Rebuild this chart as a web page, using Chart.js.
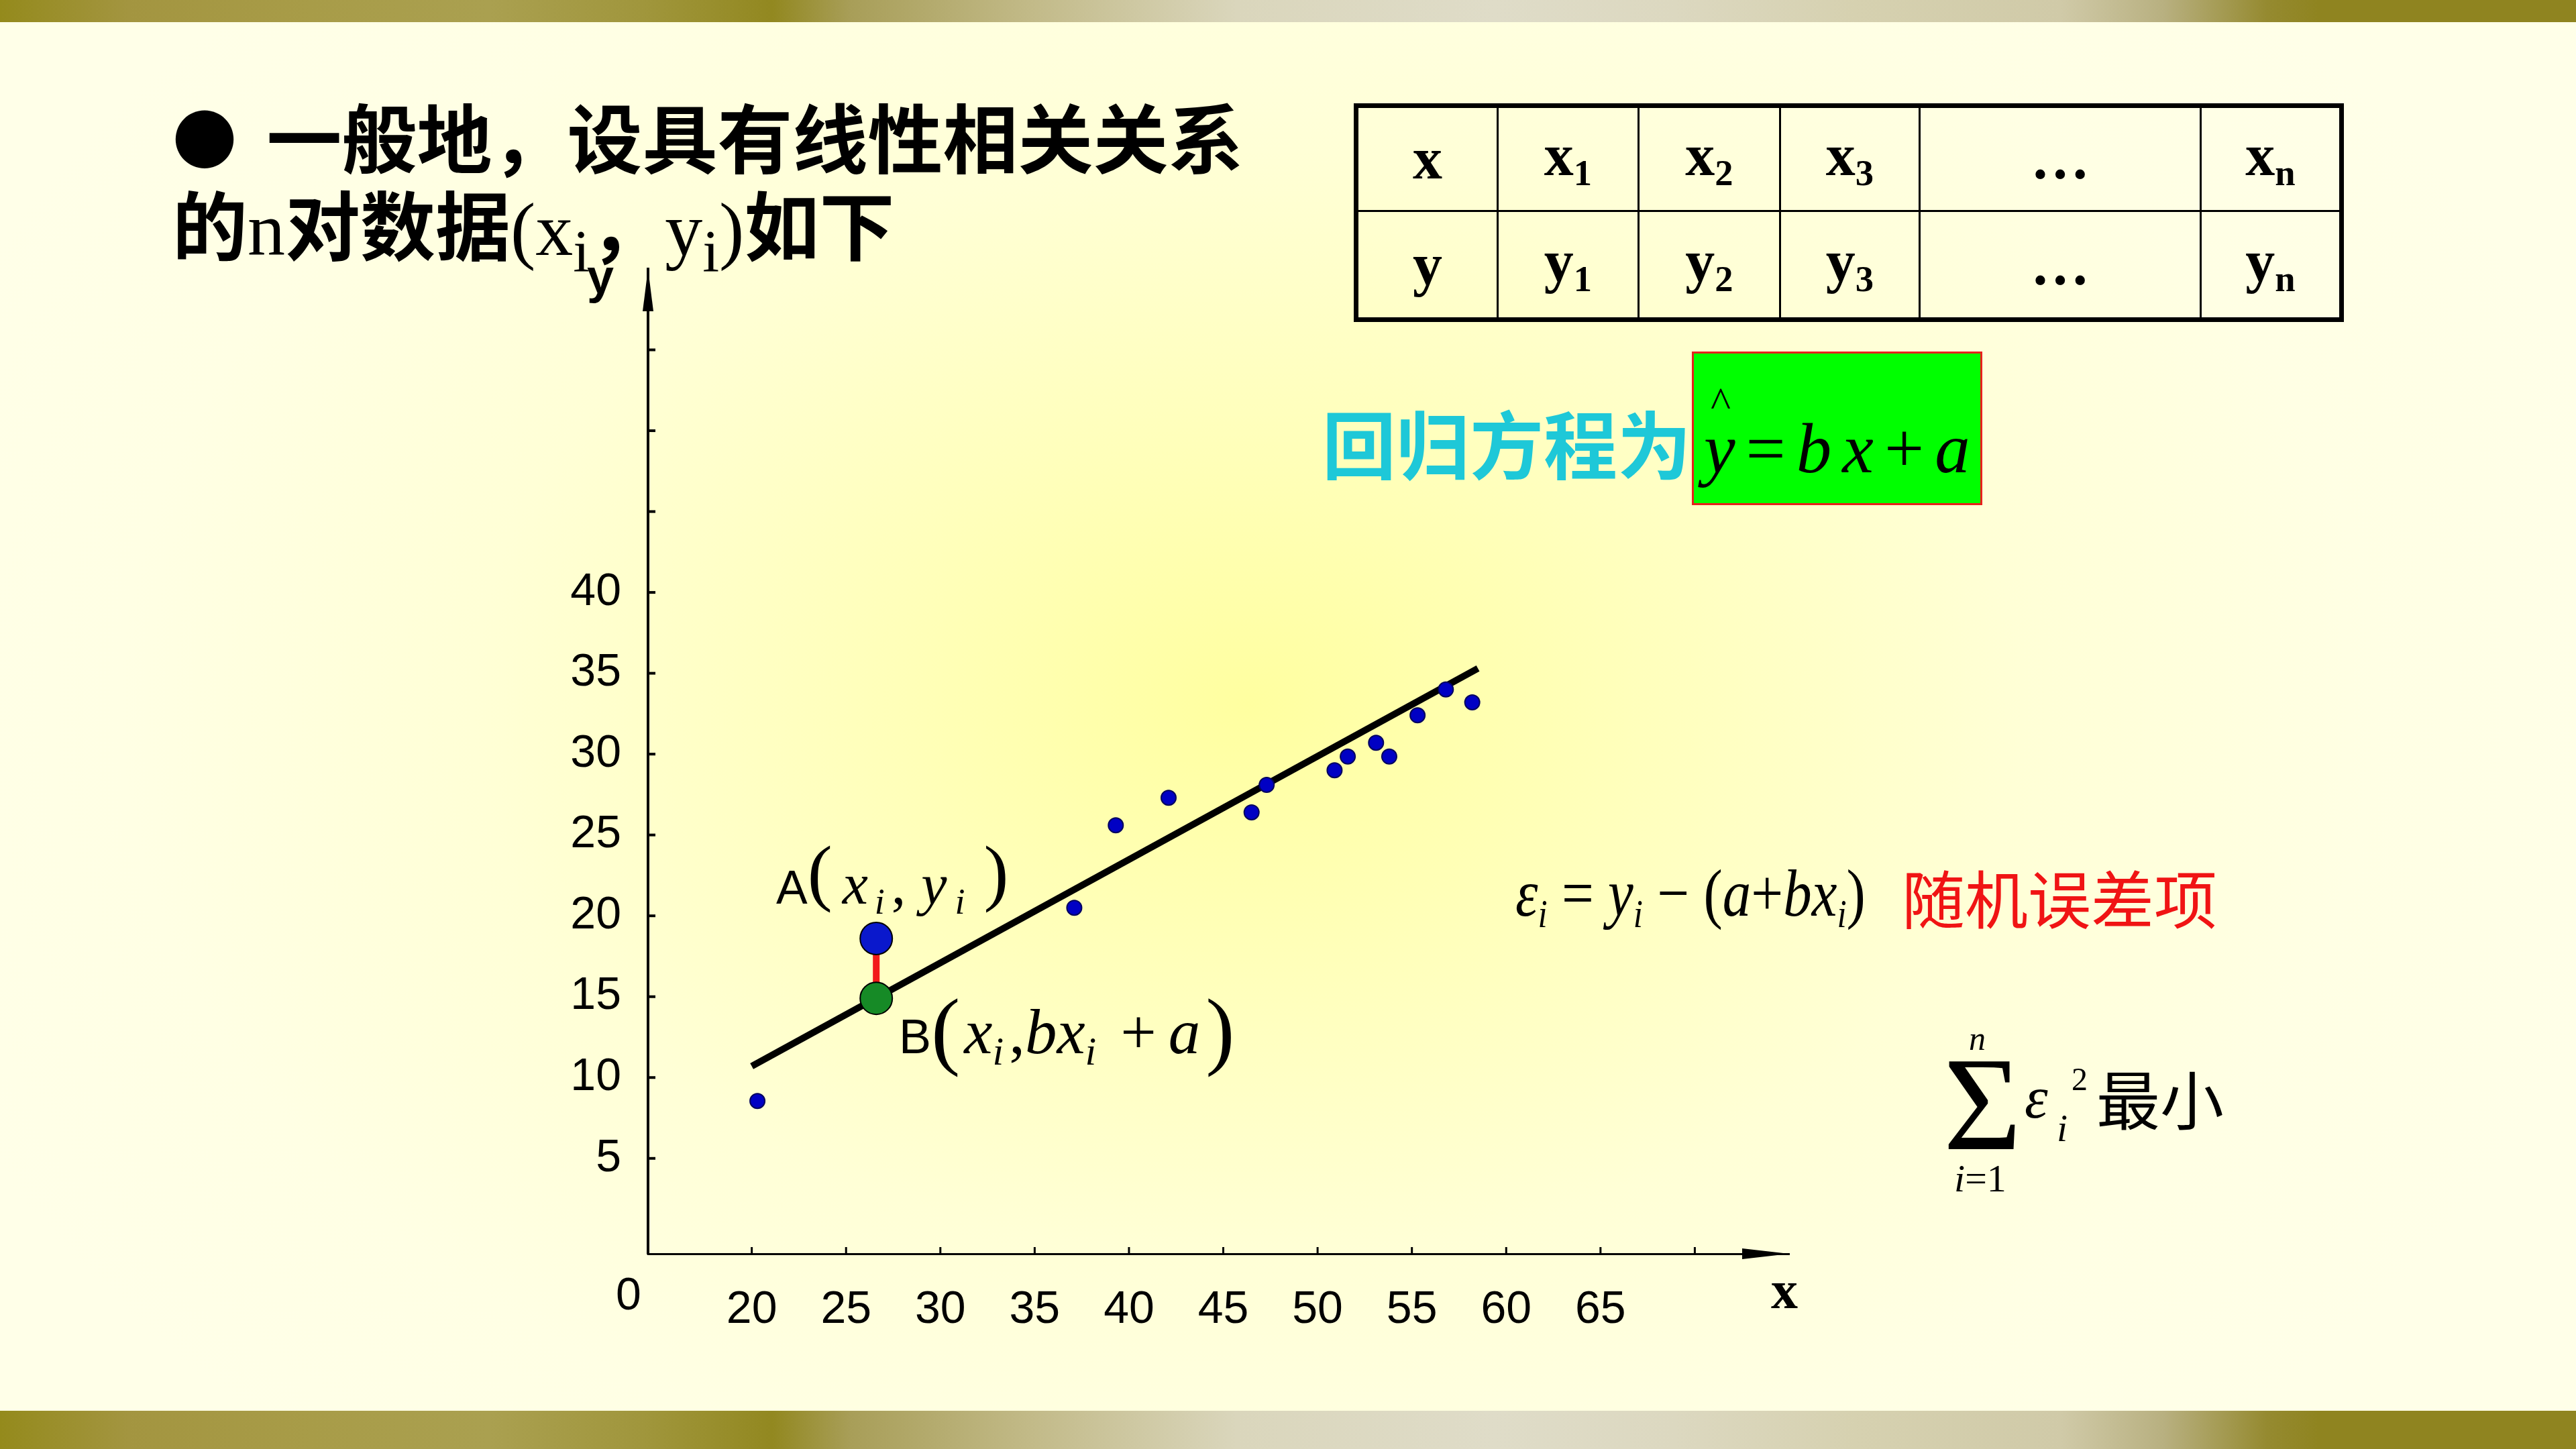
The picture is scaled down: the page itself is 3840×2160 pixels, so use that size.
<!DOCTYPE html>
<html lang="zh-CN">
<head>
<meta charset="utf-8">
<title>回归方程</title>
<script src="https://cdn.jsdelivr.net/npm/chart.js@4.4.1/dist/chart.umd.min.js"></script>
<style>
  html, body { margin: 0; padding: 0; }
  body {
    width: 3840px; height: 2160px; overflow: hidden; position: relative;
    background: radial-gradient(ellipse 2100px 1500px at 1860px 1050px,
      #ffffa0 0%, #ffffbc 28%, #ffffd6 55%, #ffffe4 80%, #ffffe8 100%);
  }
  .band {
    position: absolute; left: 0; width: 3840px;
    background: linear-gradient(90deg, #948a1c 0%, #a39540 5%, #a89c48 12%, #aaa050 19%,
      #a0963c 25%, #928820 30%, #a89e58 33%, #c2ba88 40%, #dad6bc 48%, #dfdcc8 58%,
      #dcd8c0 65%, #d6d1b0 72%, #d0caa8 80%, #b8b080 84%, #958a30 88%, #8f8420 90%, #8f8420 100%);
  }
  #chart { position: absolute; left: 0; top: 0; }
  .t { position: absolute; white-space: nowrap; line-height: 1; color: #000; }
  .cjk { font-family: "Noto Sans CJK SC", sans-serif; }
  .serif { font-family: "Liberation Serif", serif; }
  .sans { font-family: "Liberation Sans", sans-serif; }
  .it { font-style: italic; }
  .up { font-style: normal; }
  .sub { font-size: 0.8em; vertical-align: -0.27em; }
  .isub { font-size: 0.6em; vertical-align: -0.28em; font-style: italic; }

  #tbl {
    position: absolute; left: 2018px; top: 154px; width: 1469px; height: 319px;
    border-collapse: collapse; border: 7px solid #000; table-layout: fixed;
    font-family: "Liberation Serif", serif; font-weight: 700; font-size: 88px;
  }
  #tbl td { border: 3px solid #000; text-align: center; vertical-align: middle; padding: 0; line-height: 1; }
  #tbl .tsub { font-size: 0.62em; vertical-align: -0.28em; }
</style>
</head>
<body>
<div class="band" style="top:0;height:33px"></div>
<div class="band" style="top:2103px;height:57px"></div>

<canvas id="chart" width="3840" height="2160"></canvas>

<!-- 标题 -->
<div class="t cjk" style="left:257px;top:145px;font-size:112px;font-weight:700"><span style="font-size:96px;vertical-align:6px;margin-right:19px">●</span> 一般地，设具有线性相关关系</div>
<div class="t cjk" style="left:257px;top:275px;font-size:112px;font-weight:700">的<span class="serif" style="font-weight:400">n</span>对数据<span class="serif" style="font-weight:400">(x<span class="sub">i</span></span>，<span class="serif" style="font-weight:400">y<span class="sub">i</span>)</span>如下</div>

<!-- 数据表 -->
<table id="tbl">
  <colgroup>
    <col style="width:211px"><col style="width:210px"><col style="width:211px">
    <col style="width:208px"><col style="width:419px"><col style="width:210px">
  </colgroup>
  <tr style="height:157px"><td>x</td><td>x<span class="tsub">1</span></td><td>x<span class="tsub">2</span></td><td>x<span class="tsub">3</span></td><td>…</td><td>x<span class="tsub">n</span></td></tr>
  <tr style="height:162px"><td>y</td><td>y<span class="tsub">1</span></td><td>y<span class="tsub">2</span></td><td>y<span class="tsub">3</span></td><td>…</td><td>y<span class="tsub">n</span></td></tr>
</table>

<!-- 回归方程 -->
<div class="t cjk" style="left:1971px;top:603px;font-size:110px;font-weight:700;color:#1ec8d8">回归方程为</div>
<div style="position:absolute;left:2522px;top:524px;width:433px;height:229px;box-sizing:border-box;background:#00ff00;border:3px solid #e8201c"></div>
<div class="t serif" style="left:2550px;top:568px;font-size:64px">^</div>
<div class="t serif it" style="left:2540px;top:616px;font-size:105px;letter-spacing:16px">y<span class="up">=</span>bx<span class="up">+</span>a</div>

<!-- 随机误差项 -->
<div class="t serif it" style="left:2259px;top:1282px;font-size:100px;transform:scaleX(0.85);transform-origin:left top">ε<span class="isub">i</span> <span class="up">=</span> y<span class="isub">i</span> <span class="up">−</span> <span class="up">(</span>a<span class="up">+</span>bx<span class="isub">i</span><span class="up">)</span></div>
<div class="t cjk" style="left:2835px;top:1289px;font-size:94px;color:#f01414">随机误差项</div>

<!-- 最小二乘 -->
<div class="t serif" style="left:2897px;top:1546px;font-size:200px">Σ</div>
<div class="t serif it" style="left:2935px;top:1523px;font-size:50px">n</div>
<div class="t serif" style="left:2913px;top:1728px;font-size:58px"><span class="it">i</span>=1</div>
<div class="t serif it" style="left:3018px;top:1593px;font-size:88px">ε</div>
<div class="t serif it" style="left:3066px;top:1653px;font-size:58px">i</div>
<div class="t serif" style="left:3088px;top:1585px;font-size:48px">2</div>
<div class="t cjk" style="left:3125px;top:1588px;font-size:95px">最小</div>

<!-- A、B 标注 -->
<div class="t" style="left:1157px;top:1244px"><span class="sans" style="font-size:70px">A</span><span class="serif" style="font-size:111px;vertical-align:10px">(</span><span class="serif it" style="font-size:86px;margin-left:15px">x</span><span class="serif isub" style="font-size:54px;margin-left:10px">i</span><span class="serif" style="font-size:86px;margin-left:10px;margin-right:23px">,</span><span class="serif it" style="font-size:86px">y</span><span class="serif isub" style="font-size:54px;margin-left:12px">i</span><span class="serif" style="font-size:111px;margin-left:28px;vertical-align:10px">)</span></div>
<div class="t" style="left:1340px;top:1469px"><span class="sans" style="font-size:72px">B</span><span class="serif" style="font-size:130px;vertical-align:-8px">(</span><span class="serif it" style="font-size:95px;margin-left:6px">x</span><span class="serif isub" style="font-size:60px">i</span><span class="serif" style="font-size:95px;margin-left:8px">,</span><span class="serif it" style="font-size:95px">bx</span><span class="serif isub" style="font-size:60px">i</span><span class="serif" style="font-size:95px;margin-left:36px;margin-right:18px">+</span><span class="serif it" style="font-size:95px">a</span><span class="serif" style="font-size:130px;margin-left:8px;vertical-align:-8px">)</span></div>

<!-- 坐标轴名称 -->
<div class="t sans" style="left:875px;top:376px;font-size:72px;font-weight:700">y</div>
<div class="t serif" style="left:2640px;top:1883px;font-size:80px;font-weight:700">x</div>

<script>
// observed pairs (x_i, y_i)
const obsX = [20.3, 37.1, 39.3, 42.1, 46.5, 47.3, 50.9, 51.6, 53.1, 53.8, 55.3, 56.8, 58.2];
const obsY = [8.55, 20.5, 25.6, 27.3, 26.4, 28.1, 29.0, 29.85, 30.7, 29.85, 32.4, 34.0, 33.2];

// fitted line y = bx + a, drawn between its two ends
const fitX = [20, 58.5];
const fitY = [10.7, 35.3];

// point A (x_i, y_i) and point B (x_i, bx_i + a)
const residualX = [26.6, 26.6];
const residualY = [18.6, 14.9];

// axis ticks
const xTickValues = [20, 25, 30, 35, 40, 45, 50, 55, 60, 65, 70];
const xTickLabels = ['20', '25', '30', '35', '40', '45', '50', '55', '60', '65', ''];
const yTickValues = [5, 10, 15, 20, 25, 30, 35, 40, 45, 50, 55];
const yTickLabels = ['5', '10', '15', '20', '25', '30', '35', '40', '', '', ''];
const originLabel = '0';

const toPoints = (xs, ys) => xs.map((v, i) => ({ x: v, y: ys[i] }));

// inward tick marks, axis arrows and the origin label
const axisDecor = {
  id: 'axisDecor',
  afterDraw(chart) {
    const { ctx, chartArea: { left, right, top, bottom }, scales: { x, y } } = chart;
    ctx.save();
    ctx.strokeStyle = '#000';
    ctx.fillStyle = '#000';

    ctx.lineWidth = 4;
    yTickValues.forEach(v => {
      const py = y.getPixelForValue(v);
      ctx.beginPath(); ctx.moveTo(left, py); ctx.lineTo(left + 11, py); ctx.stroke();
    });
    ctx.lineWidth = 3;
    xTickValues.forEach(v => {
      const px = x.getPixelForValue(v);
      ctx.beginPath(); ctx.moveTo(px, bottom); ctx.lineTo(px, bottom - 10); ctx.stroke();
    });

    // y arrow
    ctx.beginPath();
    ctx.moveTo(left, top);
    ctx.lineTo(left - 8, top + 63);
    ctx.lineTo(left + 8, top + 63);
    ctx.closePath(); ctx.fill();
    // x arrow
    ctx.beginPath();
    ctx.moveTo(right, bottom);
    ctx.lineTo(right - 70, bottom - 8);
    ctx.lineTo(right - 70, bottom + 8);
    ctx.closePath(); ctx.fill();

    ctx.font = '68px "Liberation Sans"';
    ctx.textAlign = 'center';
    ctx.textBaseline = 'middle';
    ctx.fillText(originLabel, left - 29, bottom + 64);
    ctx.restore();
  }
};

const tickFont = { family: 'Liberation Sans', size: 68 };

new Chart(document.getElementById('chart'), {
  type: 'scatter',
  data: {
    datasets: [
      {
        label: 'A',
        data: toPoints([residualX[0]], [residualY[0]]),
        pointRadius: 24,
        pointBackgroundColor: '#0a18cc',
        pointBorderColor: '#000',
        pointBorderWidth: 2,
        order: 0
      },
      {
        label: 'B',
        data: toPoints([residualX[1]], [residualY[1]]),
        pointRadius: 24,
        pointBackgroundColor: '#168a26',
        pointBorderColor: '#000',
        pointBorderWidth: 2,
        order: 0
      },
      {
        label: 'residual',
        type: 'line',
        data: toPoints(residualX, residualY),
        borderColor: '#f21a1a',
        borderWidth: 10,
        pointRadius: 0,
        order: 1
      },
      {
        label: 'data',
        data: toPoints(obsX, obsY),
        pointRadius: 11,
        pointBackgroundColor: '#0000c4',
        pointBorderColor: '#000060',
        pointBorderWidth: 2,
        order: 2
      },
      {
        label: 'fit',
        type: 'line',
        data: toPoints(fitX, fitY),
        borderColor: '#000',
        borderWidth: 10,
        pointRadius: 0,
        order: 3
      }
    ]
  },
  options: {
    responsive: false,
    animation: false,
    events: [],
    layout: { padding: { left: 766, right: 1173, top: 401, bottom: 91 } },
    plugins: { legend: { display: false }, tooltip: { enabled: false } },
    scales: {
      x: {
        type: 'linear',
        min: 14.5,
        max: 75,
        afterBuildTicks: s => { s.ticks = xTickValues.map(v => ({ value: v })); },
        afterFit: s => { s.height = 200; },
        ticks: {
          callback: (v, i) => xTickLabels[i],
          font: tickFont, color: '#000', padding: 43,
          autoSkip: false, maxRotation: 0
        },
        grid: { drawOnChartArea: false, drawTicks: false },
        border: { display: true, color: '#000', width: 3 }
      },
      y: {
        type: 'linear',
        min: -0.9,
        max: 60,
        afterBuildTicks: s => { s.ticks = yTickValues.map(v => ({ value: v })); },
        afterFit: s => { s.width = 200; },
        ticks: {
          callback: (v, i) => yTickLabels[i],
          font: tickFont, color: '#000', padding: 40,
          autoSkip: false
        },
        grid: { drawOnChartArea: false, drawTicks: false },
        border: { display: true, color: '#000', width: 4 }
      }
    }
  },
  plugins: [axisDecor]
});
</script>
</body>
</html>
